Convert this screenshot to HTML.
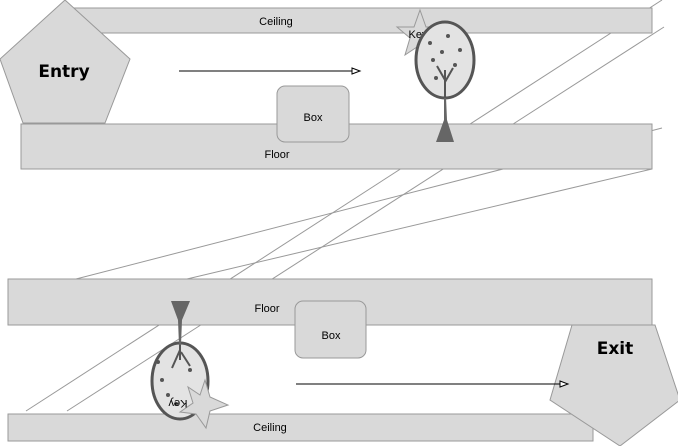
<!DOCTYPE html>
<html><head><meta charset="utf-8"><style>
html,body{margin:0;padding:0;background:#fff;}
svg{display:block;font-family:"Liberation Sans","DejaVu Sans",sans-serif;}
</style></head><body>
<svg width="678" height="446" viewBox="0 0 678 446">
<g stroke="#999" stroke-width="1" fill="none">
<line x1="662" y1="0" x2="26" y2="411"/>
<line x1="664" y1="27" x2="67" y2="411"/>
<line x1="662" y1="128" x2="76" y2="279"/>
<line x1="652" y1="169" x2="187" y2="279"/>
</g>
<rect x="68" y="8" width="584" height="25" fill="#d9d9d9" stroke="#999"/>
<text x="276" y="25" font-size="11" text-anchor="middle">Ceiling</text>
<polygon points="65,0 130,59 105,123 23,123 0,59" fill="#d9d9d9" stroke="#999"/>
<text x="64" y="77" font-size="17" font-weight="bold" text-anchor="middle" font-family="'DejaVu Sans',sans-serif">Entry</text>
<rect x="21" y="124" width="631" height="45" fill="#d9d9d9" stroke="#999"/>
<text x="277" y="158" font-size="11" text-anchor="middle">Floor</text>
<rect x="277" y="86" width="72" height="56" rx="8" fill="#d9d9d9" stroke="#999"/>
<text x="313" y="121" font-size="11" text-anchor="middle">Box</text>
<line x1="179" y1="71" x2="352" y2="71" stroke="#000"/>
<polygon points="352,68 360,71 352,74" fill="#fff" stroke="#000"/>
<polygon points="420,10 426,27 443,27 430,38 435,55 420,45 405,55 410,38 397,27 414,27" fill="#d9d9d9" stroke="#999"/>
<text x="418" y="38" font-size="11" text-anchor="middle">Key</text>
<g>
<ellipse cx="445" cy="60" rx="29" ry="38" fill="#e3e3e3" stroke="#555" stroke-width="3"/>
<path d="M444 97 L444 120 L436 142 L454 142 L447 120 L446 97 Z" fill="#666"/>
<path d="M445 98 L445 70 M445 80 L437 66 M445 82 L453 68" stroke="#555" stroke-width="2" fill="none"/>
<g fill="#555"><circle cx="430" cy="43" r="2"/><circle cx="448" cy="36" r="2"/><circle cx="460" cy="50" r="2"/><circle cx="433" cy="60" r="2"/><circle cx="455" cy="65" r="2"/><circle cx="442" cy="52" r="2"/><circle cx="436" cy="78" r="2"/></g>
</g>
<rect x="8" y="279" width="644" height="46" fill="#d9d9d9" stroke="#999"/>
<text x="267" y="312" font-size="11" text-anchor="middle">Floor</text>
<rect x="295" y="301" width="71" height="57" rx="8" fill="#d9d9d9" stroke="#999"/>
<text x="331" y="339" font-size="11" text-anchor="middle">Box</text>
<rect x="8" y="414" width="585" height="27" fill="#d9d9d9" stroke="#999"/>
<text x="270" y="431" font-size="11" text-anchor="middle">Ceiling</text>
<polygon points="572,325 655,325 680,400 620,446 550,400" fill="#d9d9d9" stroke="#999"/>
<text x="615" y="354" font-size="17" font-weight="bold" text-anchor="middle" font-family="'DejaVu Sans',sans-serif">Exit</text>
<line x1="296" y1="384" x2="560" y2="384" stroke="#000"/>
<polygon points="560,381 568,384 560,387" fill="#fff" stroke="#000"/>
<g>
<ellipse cx="180" cy="381" rx="28" ry="38" fill="#e3e3e3" stroke="#555" stroke-width="3"/>
<path d="M171 301 L190 301 L182 320 L181 345 L179 345 L178 320 Z" fill="#666"/>
<path d="M180 345 L180 360 M180 350 L172 368 M181 352 L190 366" stroke="#555" stroke-width="2" fill="none"/>
<g fill="#555"><circle cx="162" cy="380" r="2"/><circle cx="168" cy="395" r="2"/><circle cx="190" cy="370" r="2"/><circle cx="176" cy="404" r="2"/><circle cx="194" cy="395" r="2"/><circle cx="158" cy="362" r="2"/></g>
</g>
<polygon points="205,380 210,397 228,405 210,411 206,428 196,414 180,412 193,403 188,387 200,395" fill="#d9d9d9" stroke="#999"/>
<text x="178" y="400" font-size="11" text-anchor="middle" transform="rotate(180 178 400)">Key</text>
</svg>
</body></html>
